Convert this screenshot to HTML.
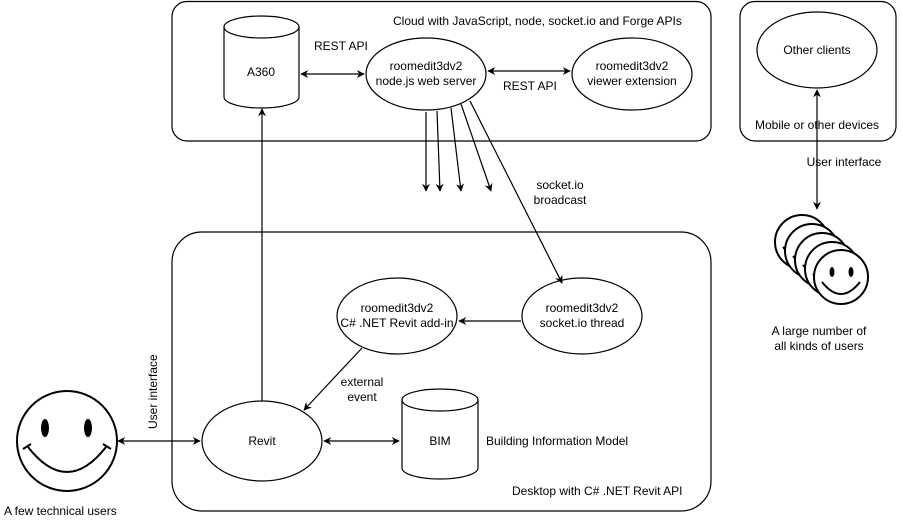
<!DOCTYPE html>
<html><head><style>
body{margin:0;background:#fff}
svg text{font-family:"Liberation Sans",Arial,sans-serif;font-size:12px;fill:#000}
</style></head><body>
<svg width="903" height="523" viewBox="0 0 903 523" xmlns="http://www.w3.org/2000/svg">
<defs>
<marker id="a" viewBox="0 0 10 10" refX="9" refY="5" markerWidth="8" markerHeight="8" orient="auto-start-reverse" markerUnits="userSpaceOnUse"><path d="M0,0 L10,5 L0,10 L3,5 Z" fill="#000"/></marker>
<g id="s">
<circle cx="0" cy="0" r="27" fill="#fff" stroke="#000" stroke-width="2"/>
<path d="M-19,5 Q0,29 19,5" fill="none" stroke="#000" stroke-width="2"/>
<ellipse cx="-9" cy="-5" rx="2.5" ry="5" fill="#000"/>
<ellipse cx="10" cy="-5" rx="2.5" ry="5" fill="#000"/>
</g>
</defs>
<g fill="none" stroke="#000" stroke-width="1.2">
<rect x="172" y="1.5" width="539" height="139.5" rx="15"/>
<rect x="740" y="1.5" width="156" height="139.5" rx="15"/>
<rect x="172" y="232" width="539" height="279" rx="30"/>
<path d="M224,27 L224,97 A37.5,11 0 0 0 299,97 L299,27"/>
<ellipse cx="261.5" cy="27" rx="37.5" ry="11"/>
<path d="M402,400 L402,468 A38,11 0 0 0 478,468 L478,400"/>
<ellipse cx="440" cy="400" rx="38" ry="11"/>
<ellipse cx="426" cy="74" rx="60" ry="36"/>
<ellipse cx="632" cy="74" rx="60" ry="36"/>
<ellipse cx="817" cy="50" rx="60" ry="38"/>
<ellipse cx="397" cy="316" rx="60" ry="38"/>
<ellipse cx="582" cy="316" rx="60" ry="38"/>
<ellipse cx="262" cy="441" rx="60" ry="40"/>
<line x1="301" y1="74" x2="364" y2="74" marker-start="url(#a)" marker-end="url(#a)"/>
<line x1="488" y1="71" x2="570" y2="71" marker-start="url(#a)" marker-end="url(#a)"/>
<line x1="426" y1="112" x2="426" y2="191" marker-end="url(#a)"/>
<line x1="437" y1="111" x2="440" y2="191" marker-end="url(#a)"/>
<line x1="451" y1="108" x2="461" y2="191" marker-end="url(#a)"/>
<line x1="461" y1="104" x2="491" y2="191" marker-end="url(#a)"/>
<line x1="470" y1="101" x2="562" y2="283" marker-end="url(#a)"/>
<line x1="521" y1="321" x2="459" y2="321" marker-end="url(#a)"/>
<line x1="362" y1="348" x2="304" y2="410" marker-end="url(#a)"/>
<line x1="262" y1="401" x2="262" y2="109" marker-end="url(#a)"/>
<line x1="118" y1="441" x2="200" y2="441" marker-start="url(#a)" marker-end="url(#a)"/>
<line x1="324" y1="441" x2="399" y2="441" marker-start="url(#a)" marker-end="url(#a)"/>
<line x1="817" y1="90" x2="817" y2="209" marker-start="url(#a)" marker-end="url(#a)"/>
</g>
<g fill="none" stroke="#000" stroke-width="2">
<circle cx="67" cy="441" r="50"/>
<path d="M28,447 Q67,497 106,447"/>
<path d="M23,449 L31,444 M103,444 L111,449"/>
</g>
<ellipse cx="45" cy="428" rx="4" ry="9" fill="#000"/>
<ellipse cx="88" cy="428" rx="4" ry="9" fill="#000"/>
<use href="#s" x="802" y="242"/>
<use href="#s" x="812" y="251"/>
<use href="#s" x="822" y="260"/>
<use href="#s" x="832" y="269"/>
<use href="#s" x="841" y="277"/>
<text x="261" y="76" text-anchor="middle">A360</text>
<text x="426" y="70" text-anchor="middle">roomedit3dv2</text>
<text x="426" y="85" text-anchor="middle">node.js web server</text>
<text x="632" y="70" text-anchor="middle">roomedit3dv2</text>
<text x="632" y="85" text-anchor="middle">viewer extension</text>
<text x="817" y="54" text-anchor="middle">Other clients</text>
<text x="817" y="129" text-anchor="middle">Mobile or other devices</text>
<text x="844" y="166" text-anchor="middle">User interface</text>
<text x="819" y="335" text-anchor="middle">A large number of</text>
<text x="819" y="350" text-anchor="middle">all kinds of users</text>
<text x="393" y="25">Cloud with JavaScript, node, socket.io and Forge APIs</text>
<text x="314" y="50">REST API</text>
<text x="503" y="90">REST API</text>
<text x="560" y="189" text-anchor="middle">socket.io</text>
<text x="560" y="204" text-anchor="middle">broadcast</text>
<text x="397" y="312" text-anchor="middle">roomedit3dv2</text>
<text x="397" y="327" text-anchor="middle">C# .NET Revit add-in</text>
<text x="582" y="312" text-anchor="middle">roomedit3dv2</text>
<text x="582" y="327" text-anchor="middle">socket.io thread</text>
<text x="362" y="386" text-anchor="middle">external</text>
<text x="362" y="401" text-anchor="middle">event</text>
<text x="262" y="445" text-anchor="middle">Revit</text>
<text x="440" y="445" text-anchor="middle">BIM</text>
<text x="486" y="445">Building Information Model</text>
<text x="512" y="495">Desktop with C# .NET Revit API</text>
<text x="4" y="515">A few technical users</text>
<text transform="translate(157,429) rotate(-90)">User interface</text>
</svg>
</body></html>
